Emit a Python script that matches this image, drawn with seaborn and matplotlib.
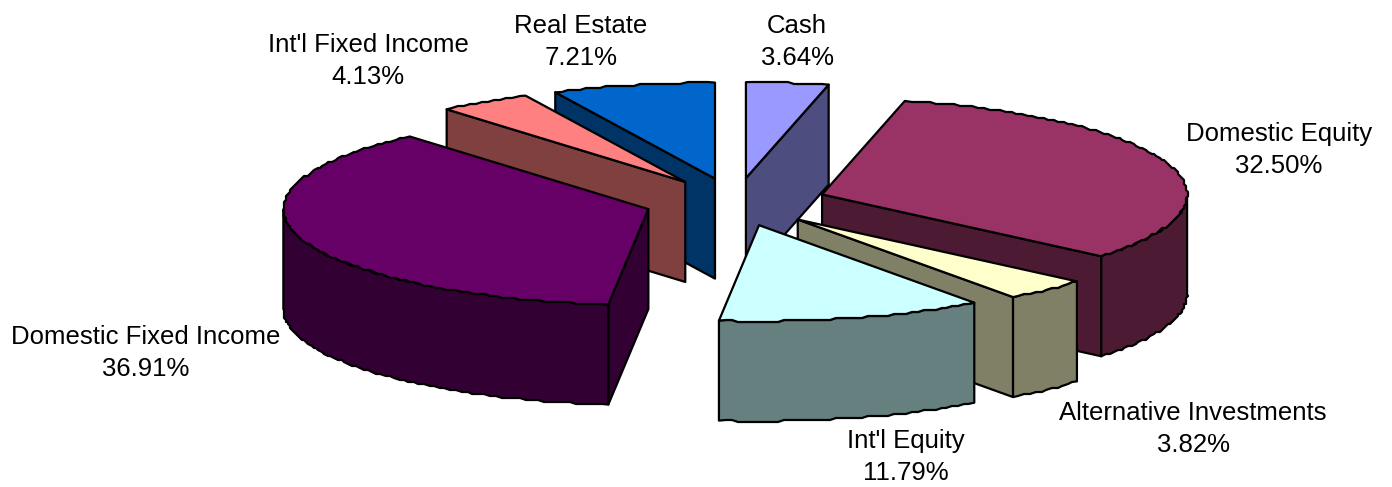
import numpy as np
import matplotlib
matplotlib.use("Agg")
import matplotlib.pyplot as plt
import seaborn as sns

# Portfolio allocation, clockwise from twelve o'clock
categories = ["Cash", "Domestic Equity", "Alternative Investments", "Int'l Equity",
              "Domestic Fixed Income", "Int'l Fixed Income", "Real Estate"]
shares = [3.64, 32.50, 3.82, 11.79, 36.91, 4.13, 7.21]
top_colors = ["#9999FF", "#993366", "#FFFFCC", "#CCFFFF", "#660066", "#FF8080", "#0066CC"]

# Centre of each label, in canvas pixels
label_x = [797, 1279, 1193, 906, 146, 368, 581]
label_y = [42, 150, 429, 457, 353, 61, 42]

# Tilted-pie geometry, in canvas pixels
CENTER = (735.5, 202.0)
RX, RY = 365.0, 96.0
DEPTH = 100.0
EXPLODE = 0.25
EDGE_GRID = 2.0

# Back-to-front drawing sequence, as indices into categories
DRAW_ORDER = [6, 5, 4, 0, 1, 2, 3]

sns.set_theme(style="white")
plt.rcParams["font.family"] = ["Liberation Sans", "DejaVu Sans"]
palette = sns.color_palette(top_colors)
side_palette = [tuple(c * 0.5 for c in col) for col in palette]

fig = plt.figure(figsize=(13.92, 4.87), dpi=100)
ax = fig.add_axes([0, 0, 1, 1])
ax.set_xlim(0, 1392)
ax.set_ylim(487, 0)
ax.axis("off")


def rim(apex, a0, a1):
    """Outer edge between two clockwise angles, slightly stepped like a coarse raster arc."""
    n = max(2, int(np.degrees(a1 - a0) / 1.0))
    t = np.linspace(a0, a1, n)
    x = apex[0] + RX * np.sin(t)
    y = apex[1] - RY * np.cos(t)
    xr = np.round(x / EDGE_GRID) * EDGE_GRID
    yr = np.round(y / EDGE_GRID) * EDGE_GRID
    xr[[0, -1]] = x[[0, -1]]
    yr[[0, -1]] = y[[0, -1]]
    return np.column_stack([xr, yr])


def face(points, color, z):
    ax.fill(points[:, 0], points[:, 1], facecolor=color, edgecolor="black",
            linewidth=1.6, joinstyle="round", zorder=z)


def drop(points):
    return points + np.array([0.0, DEPTH])


edges = np.radians(np.cumsum([0.0] + shares) / sum(shares) * 360.0)

for rank, i in enumerate(DRAW_ORDER):
    a0, a1 = edges[i], edges[i + 1]
    mid = (a0 + a1) / 2
    apex = np.array([CENTER[0] + EXPLODE * RX * np.sin(mid),
                     CENTER[1] - EXPLODE * RY * np.cos(mid)])
    z = 10 + rank * 5

    # Radial walls that face the viewer
    for ang, visible in ((a0, np.sin(a0) < -1e-9), (a1, np.sin(a1) > 1e-9)):
        if visible:
            tip = apex + np.array([RX * np.sin(ang), -RY * np.cos(ang)])
            wall = np.array([apex, tip, tip + [0, DEPTH], apex + [0, DEPTH]])
            face(wall, side_palette[i], z)

    # Curved outer wall on the front half of the ellipse
    lo, hi = max(a0, np.pi / 2), min(a1, 3 * np.pi / 2)
    if hi > lo:
        arc = rim(apex, lo, hi)
        face(np.vstack([arc, drop(arc)[::-1]]), side_palette[i], z + 1)

    # Top surface
    face(np.vstack([apex, rim(apex, a0, a1)]), palette[i], z + 2)

for name, share, x, y in zip(categories, shares, label_x, label_y):
    ax.text(x, y, f"{name}\n{share:.2f}%", ha="center", va="center", fontsize=18.5,
            linespacing=1.46, color="black", zorder=100)

fig.savefig("out.png", dpi=100)
